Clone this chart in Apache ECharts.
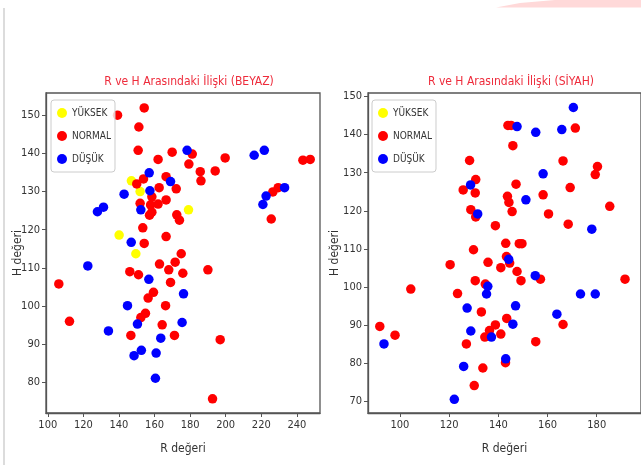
<!DOCTYPE html>
<html>
<head>
<meta charset="utf-8">
<script src="https://cdn.jsdelivr.net/npm/echarts@6/dist/echarts.min.js"></script>
<style>
  html, body { margin: 0; padding: 0; background: #fff; }
  #chart { width: 641px; height: 465px; }
</style>
</head>
<body>
<div id="chart"></div>
<script>
// R ve H degerleri, okunan noktalar [R, H]
const beyazYuksek = [
  [147.0,132.8],[151.9,130.0],[179.1,125.2],[140.1,118.6],[149.5,113.7]
];
const beyazNormal = [
  [139.2,150.0],[154.2,151.9],[151.2,146.9],[150.8,140.8],[181.2,139.8],[169.9,140.3],[162.0,138.4],
  [179.3,137.2],[199.7,138.8],[243.4,138.2],[247.5,138.4],[185.7,135.2],[186.1,132.8],[194.1,135.4],
  [166.5,133.9],[162.6,131.0],[172.2,130.7],[153.8,133.3],[150.0,132.0],[226.5,129.9],[229.5,131.0],
  [151.9,126.9],[158.5,128.6],[157.8,126.5],[158.5,124.6],[157.2,123.8],[162.0,126.7],[166.5,127.8],
  [172.5,123.9],[174.0,122.5],[225.6,122.8],[153.4,120.5],[154.2,116.4],[166.5,118.2],[175.0,113.7],
  [146.1,109.0],[151.0,108.2],[162.8,111.0],[168.0,109.5],[171.6,111.5],[175.9,108.6],[190.0,109.5],
  [169.0,106.2],[106.2,105.8],[159.4,103.6],[156.4,102.1],[166.2,100.1],[154.9,98.1],[152.3,97.0],
  [112.2,96.0],[164.3,95.1],[146.7,92.3],[171.2,92.3],[196.9,91.2],[192.6,75.7]
];
const beyazDusuk = [
  [178.3,140.8],[216.0,139.5],[221.7,140.8],[157.0,134.9],[169.0,132.6],[157.4,130.2],[142.9,129.3],
  [222.7,128.8],[233.1,131.0],[152.3,125.2],[127.9,124.7],[131.3,125.9],[220.9,126.6],[146.9,116.7],
  [122.5,110.5],[156.8,107.0],[176.3,103.2],[144.8,100.1],[150.4,95.3],[175.5,95.7],[134.1,93.5],
  [163.5,91.6],[148.5,87.0],[152.6,88.4],[160.9,87.7],[160.5,81.1]
];
const siyahYuksek = [];
const siyahNormal = [
  [143.9,142.4],[145.2,142.4],[171.3,141.7],[145.9,137.1],[128.3,133.2],[166.3,133.1],[180.3,131.6],
  [179.4,129.5],[130.8,128.2],[125.7,125.5],[130.6,124.7],[147.2,127.0],[169.2,126.1],[143.7,123.8],
  [144.3,122.2],[158.2,124.2],[128.8,120.3],[130.8,118.4],[145.6,119.8],[160.4,119.2],[185.3,121.2],
  [138.8,116.1],[168.4,116.5],[129.9,109.8],[143.0,111.5],[148.5,111.4],[149.6,111.4],[143.3,108.0],
  [144.6,106.3],[135.8,106.5],[120.4,105.9],[141.0,105.1],[147.6,104.1],[157.1,102.1],[149.2,101.7],
  [191.5,102.1],[130.6,101.7],[134.7,100.8],[104.4,99.5],[123.4,98.3],[133.1,93.5],[143.4,91.8],
  [166.3,90.2],[91.8,89.7],[138.8,90.1],[98.0,87.4],[127.0,85.1],[134.5,86.9],[136.4,88.6],
  [141.0,87.7],[155.2,85.7],[133.7,78.8],[130.2,74.2],[142.9,80.2]
];
const siyahDusuk = [
  [170.5,147.1],[147.6,142.1],[155.2,140.6],[165.8,141.3],[158.2,129.7],[128.7,126.8],[151.2,122.9],
  [131.6,119.2],[178.0,115.2],[144.2,107.3],[155.0,103.0],[135.7,100.2],[135.2,98.2],[173.4,98.2],
  [179.4,98.2],[127.3,94.5],[147.0,95.1],[163.8,92.9],[145.9,90.3],[93.5,85.1],[128.8,88.5],
  [137.2,86.9],[125.9,79.2],[143.0,81.2],[122.1,70.6]
];

// eksen etiketleri
const beyazXTicks = [100, 120, 140, 160, 180, 200, 220, 240];
const beyazYTicks = [80, 90, 100, 110, 120, 130, 140, 150];
const siyahXTicks = [100, 120, 140, 160, 180];
const siyahYTicks = [70, 80, 90, 100, 110, 120, 130, 140, 150];
const siniflar = ['YÜKSEK', 'NORMAL', 'DÜŞÜK'];
const renkler = ['#ffff00', '#ff0000', '#0000ff'];

const FONT = "'DejaVu Sans Condensed', 'Liberation Sans Narrow', 'DejaVu Sans', sans-serif";
const chart = echarts.init(document.getElementById('chart'), null, { renderer: 'canvas' });

function xEkseni(idx, min, max, ticks) {
  return {
    type: 'value', gridIndex: idx, min: min, max: max,
    name: 'R değeri', nameLocation: 'middle', nameGap: 30,
    nameTextStyle: { color: '#333', fontSize: 12, fontFamily: FONT },
    axisLine: { show: true, lineStyle: { color: '#555', width: 1.3 } },
    axisTick: { show: true, length: 4, customValues: ticks, lineStyle: { color: '#555' } },
    axisLabel: { customValues: ticks, color: '#333', fontSize: 11, fontFamily: FONT, margin: 7 },
    splitLine: { show: false }
  };
}
function yEkseni(idx, min, max, ticks, gap) {
  return {
    type: 'value', gridIndex: idx, min: min, max: max,
    name: 'H değeri', nameLocation: 'middle', nameGap: gap, nameRotate: 90,
    nameMoveOverlap: false,
    nameTextStyle: { color: '#333', fontSize: 12, fontFamily: FONT },
    axisLine: { show: true, lineStyle: { color: '#555', width: 1.3 } },
    axisTick: { show: true, length: 4, customValues: ticks, lineStyle: { color: '#555' } },
    axisLabel: { customValues: ticks, color: '#333', fontSize: 11, fontFamily: FONT, margin: 6 },
    splitLine: { show: false }
  };
}
function seri(ad, idx, veri, renk) {
  return {
    name: ad, type: 'scatter', xAxisIndex: idx, yAxisIndex: idx,
    data: veri, symbolSize: 9.5, itemStyle: { color: renk, opacity: 1 },
    emphasis: { disabled: true }
  };
}
function legend(left) {
  return {
    orient: 'vertical', left: left, top: 100,
    data: siniflar, icon: 'circle', itemWidth: 10, itemHeight: 10, itemGap: 13,
    padding: [8, 4, 8, 6],
    borderColor: '#ccc', borderWidth: 1, borderRadius: 3, backgroundColor: 'rgba(255,255,255,0.8)',
    textStyle: { color: '#333', fontSize: 10, fontFamily: FONT },
    selectedMode: false
  };
}

const option = {
  animation: false,
  backgroundColor: '#fff',
  title: [
    { text: 'R ve H Arasındaki İlişki (BEYAZ)', left: 184, top: 71, textAlign: 'center',
      textStyle: { color: '#ee2b3b', fontSize: 12, fontWeight: 'normal', fontFamily: FONT } },
    { text: 'R ve H Arasındaki İlişki (SİYAH)', left: 506, top: 71, textAlign: 'center',
      textStyle: { color: '#ee2b3b', fontSize: 12, fontWeight: 'normal', fontFamily: FONT } }
  ],
  grid: [
    { left: 46, top: 93, right: 321, bottom: 52, show: true, borderColor: '#555', borderWidth: 1.3 },
    { left: 368, top: 93, right: -7, bottom: 52, show: true, borderColor: '#555', borderWidth: 1.3 }
  ],
  xAxis: [xEkseni(0, 99, 253, beyazXTicks), xEkseni(1, 87, 198, siyahXTicks)],
  yAxis: [yEkseni(0, 72, 155.8, beyazYTicks, 22), yEkseni(1, 67, 150.9, siyahYTicks, 27)],
  legend: [legend(51), legend(372)],
  series: [
    seri('YÜKSEK', 0, beyazYuksek, renkler[0]),
    seri('NORMAL', 0, beyazNormal, renkler[1]),
    seri('DÜŞÜK', 0, beyazDusuk, renkler[2]),
    seri('YÜKSEK', 1, siyahYuksek, renkler[0]),
    seri('NORMAL', 1, siyahNormal, renkler[1]),
    seri('DÜŞÜK', 1, siyahDusuk, renkler[2])
  ],
  graphic: [
    { type: 'polygon', shape: { points: [[496, 7.5], [520, 3], [555, 0], [641, 0], [641, 7.5]] },
      style: { fill: '#ffd9d9' }, silent: true },
    { type: 'line', shape: { x1: 4, y1: 8, x2: 4, y2: 465 },
      style: { stroke: '#d0d0d0', lineWidth: 1.5 }, silent: true }
  ]
};
chart.setOption(option);
</script>
</body>
</html>
